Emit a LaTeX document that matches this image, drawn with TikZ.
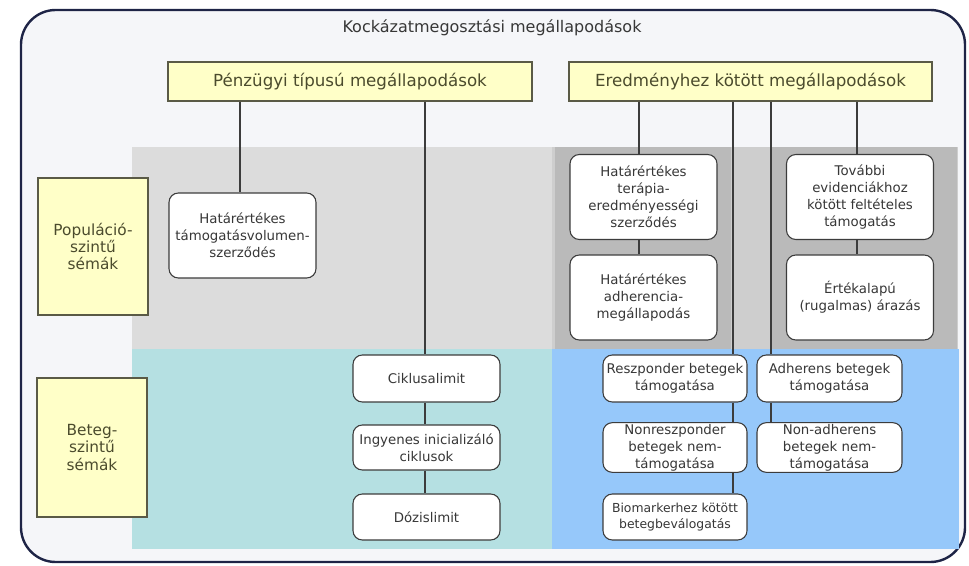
\documentclass[tikz,border=0pt]{standalone}
\usepackage{fontspec}
\setmainfont{DejaVu Sans}
\usetikzlibrary{positioning}
\definecolor{framenavy}{RGB}{30,36,70}
\definecolor{canvasgray}{RGB}{245,246,249}
\definecolor{popgray}{RGB}{220,220,220}
\definecolor{popmid}{RGB}{206,206,206}
\definecolor{popdark}{RGB}{186,186,186}
\definecolor{patteal}{RGB}{181,224,226}
\definecolor{patblue}{RGB}{150,200,250}
\definecolor{hdryellow}{RGB}{255,255,200}
\definecolor{hdrline}{RGB}{90,90,70}
\definecolor{hdrtext}{RGB}{75,75,45}
\definecolor{boxline}{RGB}{60,60,60}
\definecolor{boxtext}{RGB}{55,55,55}

\begin{document}
\begin{tikzpicture}[x=0.75pt,y=-0.75pt]
  \tikzset{
    hdr/.style={draw=hdrline,fill=hdryellow,line width=1.1pt,inner sep=0pt,text=hdrtext,font=\fontsize{12.5}{15}\selectfont},
    lvl/.style={hdr,align=center,minimum width=82.5pt,font=\fontsize{11.5}{13}\selectfont},
    scheme/.style={draw=boxline,fill=white,line width=0.8pt,rounded corners=7pt,inner sep=1pt,align=center,text=boxtext,font=\fontsize{10}{12.8}\selectfont},
    tall/.style={scheme,minimum width=110.25pt,minimum height=63.75pt},
    link/.style={draw=boxline,line width=1.1pt},
  }
  \useasboundingbox (0,0) rectangle (969,566);

  % frame and bands
  \draw[framenavy,line width=1.8pt,fill=canvasgray,rounded corners=26pt] (21,10) rectangle (965,562);
  \fill[popgray] (132,147) rectangle (552,349);
  \fill[popmid] (552,147) rectangle (958,349);
  \fill[popdark] (555,147) rectangle (731,349);
  \fill[popdark] (770,147) rectangle (957,349);
  \fill[patteal] (132,349) rectangle (552,549);
  \fill[patblue] (552,349) rectangle (959,549);

  \node[text=boxtext,font=\fontsize{12}{14}\selectfont] (title) at (492,28) {Kockázatmegosztási megállapodások};

  % headers
  \node[hdr,minimum width=273pt,minimum height=29.25pt] (fin) at (350,81.5) {Pénzügyi típusú megállapodások};
  \node[hdr,minimum width=272.25pt,minimum height=29.25pt] (outc) at (750.5,81.5) {Eredményhez kötött megállapodások};
  \node[lvl,minimum height=102.75pt] (pop) at (93,246.5) {Populáció-\\szintű\\sémák};
  \node[lvl,minimum height=104.25pt] (pat) at (92,447.5) {Beteg-\\szintű\\sémák};

  % financial schemes
  \node[tall] (vol) at (242.5,235.5) {Határértékes\\támogatásvolumen-\\szerződés};
  \node[scheme,minimum width=110.25pt,minimum height=35.25pt] (cyc) at (426.5,378.5) {Ciklusalimit};
  \node[scheme,minimum width=110.25pt,minimum height=33.75pt] (init) at (426.5,447.5) {Ingyenes inicializáló\\ciklusok};
  \node[scheme,minimum width=110.25pt,minimum height=34.5pt] (dose) at (426.5,517) {Dózislimit};

  % outcome-based schemes
  \node[tall] (ther) at (643.5,197) {Határértékes\\terápia-\\eredményességi\\szerződés};
  \node[tall] (adhag) at (643.5,297.5) {Határértékes\\adherencia-\\megállapodás};
  \node[tall] (evid) at (860,197) {További\\evidenciákhoz\\kötött feltételes\\támogatás};
  \node[tall] (value) at (860,297.5) {Értékalapú\\(rugalmas) árazás};
  \node[scheme,minimum width=108pt,minimum height=35.25pt] (resp) at (675,378.5) {Reszponder betegek\\támogatása};
  \node[scheme,minimum width=108.75pt,minimum height=35.25pt] (adh) at (829.5,378.5) {Adherens betegek\\támogatása};
  \node[scheme,minimum width=108pt,minimum height=33.75pt] (nonresp) at (675,447.5) {Nonreszponder\\betegek nem-\\támogatása};
  \node[scheme,minimum width=108.75pt,minimum height=33.75pt] (nonadh) at (829.5,447.5) {Non-adherens\\betegek nem-\\támogatása};
  \node[scheme,minimum width=108pt,minimum height=34.5pt,inner xsep=0.5pt,font=\fontsize{9.3}{12.4}\selectfont] (bio) at (675,517) {Biomarkerhez kötött\\betegbeválogatás};

  % connectors
  \coordinate (finA) at (240,0); \coordinate (finB) at (425,0);
  \coordinate (outA) at (639,0); \coordinate (outB) at (733,0);
  \coordinate (outC) at (771,0); \coordinate (outD) at (857,0);
  \draw[link] (fin.south -| finA) -- (vol.north -| finA);
  \draw[link] (fin.south -| finB) -- (cyc.north -| finB)
              (cyc.south -| finB) -- (init.north -| finB)
              (init.south -| finB) -- (dose.north -| finB);
  \draw[link] (outc.south -| outA) -- (ther.north -| outA)
              (ther.south -| outA) -- (adhag.north -| outA);
  \draw[link] (outc.south -| outD) -- (evid.north -| outD)
              (evid.south -| outD) -- (value.north -| outD);
  \draw[link] (outc.south -| outB) -- (resp.north -| outB)
              (resp.south -| outB) -- (nonresp.north -| outB)
              (nonresp.south -| outB) -- (bio.north -| outB);
  \draw[link] (outc.south -| outC) -- (adh.north -| outC)
              (adh.south -| outC) -- (nonadh.north -| outC);
\end{tikzpicture}
\end{document}
